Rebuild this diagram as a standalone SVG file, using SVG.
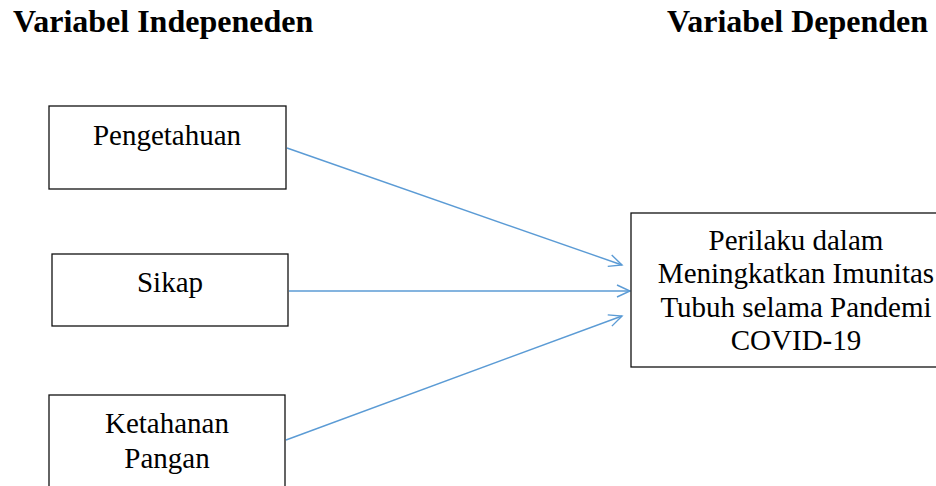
<svg xmlns="http://www.w3.org/2000/svg" width="936" height="486" viewBox="0 0 936 486">
<defs>
<style>
.title{font-family:"Liberation Serif","Times New Roman",serif;font-weight:bold;font-size:32px;fill:#000}
.box{fill:#fff;stroke:#111;stroke-width:1.3}
.lbl{font-family:"Liberation Serif","Times New Roman",serif;font-size:29px;fill:#000;text-anchor:middle}
.conn{stroke:#5B9BD5;stroke-width:1.4;fill:none;marker-end:url(#arr)}
</style>
<marker id="arr" markerUnits="userSpaceOnUse" markerWidth="16" markerHeight="15" refX="14" refY="7" orient="auto">
<path d="M1,1 L14,7 L1,13" fill="none" stroke="#5B9BD5" stroke-width="1.4"/>
</marker>
</defs>
<rect width="936" height="486" fill="#fff"/>
<text class="title" x="13" y="32">Variabel Indepeneden</text>
<text class="title" x="667" y="32">Variabel Dependen</text>
<g id="connectors">
<line class="conn" x1="287" y1="148" x2="622" y2="265"/>
<line class="conn" x1="289" y1="291" x2="630" y2="291"/>
<line class="conn" x1="286" y1="440" x2="622" y2="316"/>
</g>
<g id="pengetahuan">
<rect class="box" x="49" y="106" width="237" height="83"/>
<text class="lbl" x="167" y="145">Pengetahuan</text>
</g>
<g id="sikap">
<rect class="box" x="52" y="254" width="236" height="72"/>
<text class="lbl" x="170" y="292">Sikap</text>
</g>
<g id="ketahanan">
<rect class="box" x="49" y="395" width="236" height="100"/>
<text class="lbl" x="167" y="433">Ketahanan</text>
<text class="lbl" x="167" y="468">Pangan</text>
</g>
<g id="perilaku">
<rect class="box" x="631" y="213" width="340" height="154"/>
<text class="lbl" x="796" y="250">Perilaku dalam</text>
<text class="lbl" x="796" y="283">Meningkatkan Imunitas</text>
<text class="lbl" x="796" y="317">Tubuh selama Pandemi</text>
<text class="lbl" x="796" y="350">COVID-19</text>
</g>
</svg>
